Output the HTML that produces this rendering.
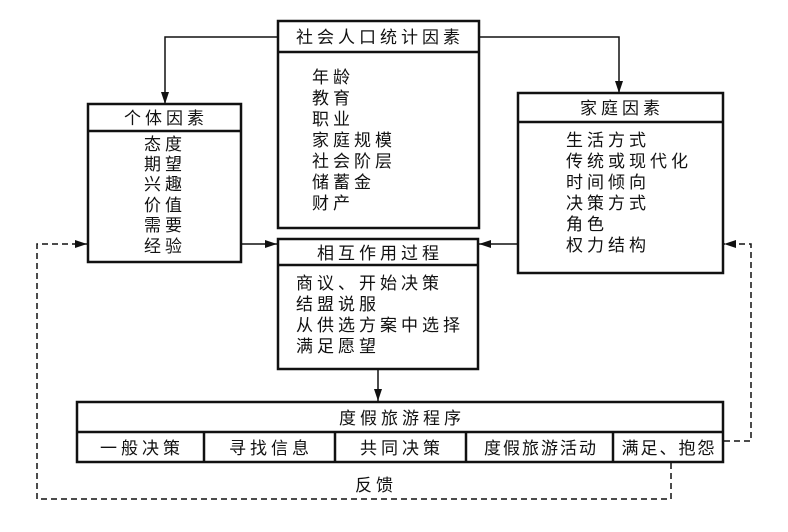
<!DOCTYPE html>
<html><head><meta charset="utf-8"><style>
html,body{margin:0;padding:0;background:#fff;}
svg{display:block;}
text{font-family:"Liberation Sans","Noto Sans CJK SC",sans-serif;font-size:17px;fill:#111;letter-spacing:4px;}
</style></head><body>
<svg width="788" height="532" viewBox="0 0 788 532" xmlns="http://www.w3.org/2000/svg">
<defs>
<marker id="a" viewBox="0 0 12 8" refX="12" refY="4" markerWidth="12" markerHeight="8" markerUnits="userSpaceOnUse" orient="auto"><path d="M0,0 L12,4 L0,8 Z" fill="#111"/></marker>
</defs>
<g fill="none" stroke="#111" stroke-width="2.5">
<rect x="278" y="21" width="201" height="207"/><line x1="278" y1="52" x2="479" y2="52"/>
<rect x="88" y="104" width="153" height="158"/><line x1="88" y1="131" x2="241" y2="131"/>
<rect x="518" y="93" width="205" height="180"/><line x1="518" y1="122" x2="723" y2="122"/>
<rect x="278" y="239" width="200" height="130"/><line x1="278" y1="265" x2="478" y2="265"/>
<rect x="77" y="402" width="646" height="60"/><line x1="77" y1="432" x2="723" y2="432"/>
<line x1="204" y1="432" x2="204" y2="462"/><line x1="335" y1="432" x2="335" y2="462"/>
<line x1="466" y1="432" x2="466" y2="462"/><line x1="613" y1="432" x2="613" y2="462"/>
</g>
<g fill="none" stroke="#111" stroke-width="1.5">
<polyline points="278,37 165,37 165,104" marker-end="url(#a)"/>
<polyline points="479,37 619,37 619,93" marker-end="url(#a)"/>
<line x1="241" y1="244" x2="277" y2="244" marker-end="url(#a)"/>
<line x1="518" y1="244" x2="479" y2="244" marker-end="url(#a)"/>
<line x1="378" y1="369" x2="378" y2="401" marker-end="url(#a)"/>
</g>
<g fill="none" stroke="#111" stroke-width="1.5" stroke-dasharray="6,4">
<polyline points="671,463 671,499 37,499 37,244 87,244" marker-end="url(#a)"/>
<polyline points="724,441 751,441 751,244 724,244" marker-end="url(#a)"/>
</g>
<text x="380" y="43" text-anchor="middle">社会人口统计因素</text>
<text x="312" y="83">年龄</text><text x="312" y="104">教育</text><text x="312" y="125">职业</text>
<text x="312" y="146">家庭规模</text><text x="312" y="167">社会阶层</text><text x="312" y="188">储蓄金</text><text x="312" y="209">财产</text>
<text x="166" y="124" text-anchor="middle">个体因素</text>
<text x="144" y="150">态度</text><text x="144" y="170">期望</text><text x="144" y="190">兴趣</text>
<text x="144" y="211">价值</text><text x="144" y="231">需要</text><text x="144" y="252">经验</text>
<text x="622" y="114" text-anchor="middle">家庭因素</text>
<text x="566" y="146">生活方式</text><text x="566" y="167">传统或现代化</text><text x="566" y="188">时间倾向</text>
<text x="566" y="209">决策方式</text><text x="566" y="230">角色</text><text x="566" y="251">权力结构</text>
<text x="380" y="259" text-anchor="middle">相互作用过程</text>
<text x="296" y="289">商议、开始决策</text><text x="296" y="310">结盟说服</text>
<text x="296" y="331">从供选方案中选择</text><text x="296" y="352">满足愿望</text>
<text x="402" y="424" text-anchor="middle">度假旅游程序</text>
<text x="142" y="454" text-anchor="middle">一般决策</text>
<text x="271" y="454" text-anchor="middle">寻找信息</text>
<text x="402" y="454" text-anchor="middle">共同决策</text>
<text x="541" y="454" text-anchor="middle" style="letter-spacing:2px">度假旅游活动</text>
<text x="669" y="454" text-anchor="middle" style="letter-spacing:2px">满足、抱怨</text>
<text x="376" y="491" text-anchor="middle">反馈</text>
</svg>
</body></html>
